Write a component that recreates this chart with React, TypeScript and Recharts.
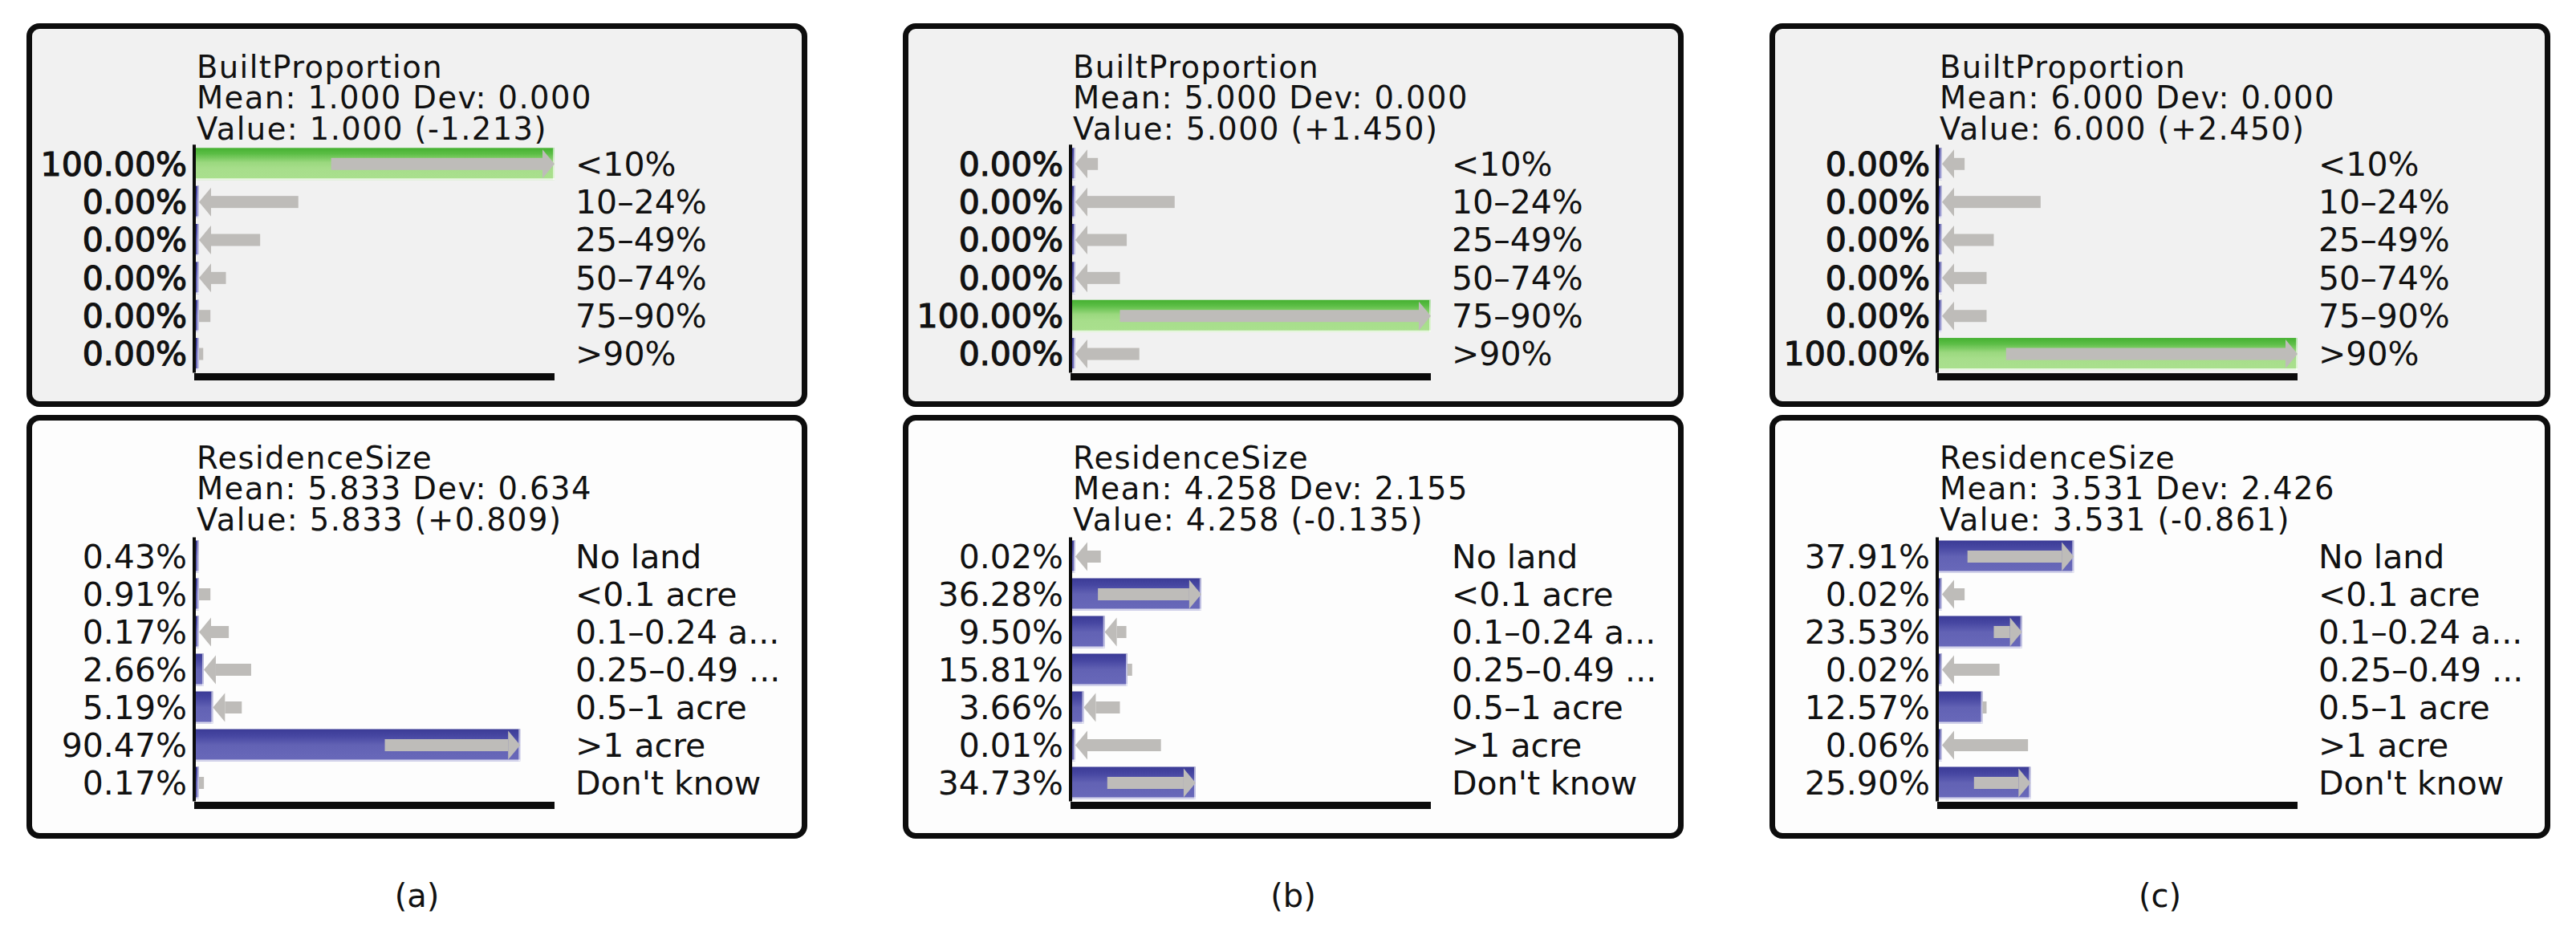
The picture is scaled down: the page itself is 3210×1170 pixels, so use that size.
import { BarChart, Bar, XAxis, YAxis } from "recharts";

// categories
const builtCats = ["<10%", "10–24%", "25–49%", "50–74%", "75–90%", ">90%"];
const sizeCats = ["No land", "<0.1 acre", "0.1–0.24 a...", "0.25–0.49 ...", "0.5–1 acre", ">1 acre", "Don't know"];

// BuiltProportion beliefs (%) and where the grey arrows start (earlier belief)
const builtA = [100, 0, 0, 0, 0, 0];
const builtPriorA = [38, 28.9, 18.3, 8.8, 4.5, 2.5];
const builtB = [0, 0, 0, 0, 100, 0];
const builtPriorB = [7.6, 28.9, 15.6, 13.7, 13.7, 19.1];
const builtC = [0, 0, 0, 0, 0, 100];
const builtPriorC = [7.6, 28.7, 15.7, 13.7, 13.7, 19.1];

// ResidenceSize beliefs (%)
const sizeA = [0.43, 0.91, 0.17, 2.66, 5.19, 90.47, 0.17];
const sizePriorA = [0.43, 4.5, 9.6, 15.8, 13.2, 52.9, 2.7];
const sizeB = [0.02, 36.28, 9.5, 15.81, 3.66, 0.01, 34.73];
const sizePriorB = [8.4, 7.6, 15.5, 17.1, 13.7, 25.1, 10.2];
const sizeC = [37.91, 0.02, 23.53, 0.02, 12.57, 0.06, 25.9];
const sizePriorC = [8.4, 7.6, 15.7, 17.3, 13.7, 25.2, 10.2];

// node header texts
const builtTitles = [
  ["BuiltProportion", "Mean: 1.000 Dev: 0.000", "Value: 1.000 (-1.213)"],
  ["BuiltProportion", "Mean: 5.000 Dev: 0.000", "Value: 5.000 (+1.450)"],
  ["BuiltProportion", "Mean: 6.000 Dev: 0.000", "Value: 6.000 (+2.450)"],
];
const sizeTitles = [
  ["ResidenceSize", "Mean: 5.833 Dev: 0.634", "Value: 5.833 (+0.809)"],
  ["ResidenceSize", "Mean: 4.258 Dev: 2.155", "Value: 4.258 (-0.135)"],
  ["ResidenceSize", "Mean: 3.531 Dev: 2.426", "Value: 3.531 (-0.861)"],
];
const captions = ["(a)", "(b)", "(c)"];

const FONT = "'DejaVu Sans', Verdana, sans-serif";
const INK = "#111111";
const GRAY = "#bebcb9";

const rows = (cats: string[], vals: number[], priors: number[]) =>
  cats.map((name, i) => ({ name, value: vals[i], prior: priors[i] }));

const fmt = (v: number) => `${v.toFixed(2)}%`;

const BarShape = (props: any) => {
  const { x, y, width, height, evidence, payload } = props;
  if (x == null || !isFinite(width)) return null;
  // the observed state of an evidence node is shown in green
  const grad = evidence && payload.value >= 100 ? "gGreen" : "gBlue";
  return (
    <g>
      <rect x={x} y={y} width={width} height={height} fill={`url(#${grad})`} />
      <line x1={x} x2={x + width} y1={y + height - 1} y2={y + height - 1} stroke="rgba(255,255,255,0.75)" strokeWidth={2} />
      <line x1={x + width - 1} x2={x + width - 1} y1={y} y2={y + height} stroke="rgba(255,255,255,0.6)" strokeWidth={2} />
    </g>
  );
};

const ArrowShape = (props: any) => {
  const { x, y, width, height, payload } = props;
  if (x == null || !isFinite(width)) return null;
  if (Math.abs(width) < 1) return null;
  const cy = y + height / 2;
  const dir = width >= 0 ? 1 : -1;
  let tip = x + width;
  // keep the tip off the axis when the current belief is ~0
  const span = payload.value - payload.prior;
  if (dir < 0 && span !== 0) {
    const ppu = width / span;
    const axisX = x - payload.prior * ppu;
    tip = Math.max(tip, axisX + 6);
  }
  const len = Math.abs(tip - x);
  const shaft = 15;
  const headLen = 15;
  const headH = height - 4;
  if (len < 26) {
    return <rect x={Math.min(x, tip)} y={cy - shaft / 2} width={len} height={shaft} fill={GRAY} />;
  }
  const base = tip - dir * headLen;
  return (
    <g>
      <rect x={Math.min(x, base)} y={cy - shaft / 2} width={Math.abs(base - x)} height={shaft} fill={GRAY} />
      <polygon points={`${base},${cy - headH / 2} ${tip},${cy} ${base},${cy + headH / 2}`} fill={GRAY} />
    </g>
  );
};

type NodeProps = {
  left: number;
  top: number;
  boxH: number;
  plotTop: number;
  band: number;
  axisShift: number;
  data: { name: string; value: number; prior: number }[];
  titles: string[];
  bg: string;
  evidence?: boolean;
};

const W = 973;
const AXIS_LEFT = 209;
const PLOT_W = 449;

const NodeBox = ({ left, top, boxH, plotTop, band, axisShift, data, titles, bg, evidence }: NodeProps) => {
  const plotH = band * data.length;
  const tickStyle = { fontSize: 41, fill: INK, fontFamily: FONT };
  const leftTick = evidence ? { ...tickStyle, stroke: INK, strokeWidth: 1.2 } : tickStyle;
  return (
    <>
      <div
        style={{
          position: "absolute",
          left,
          top,
          width: W,
          height: boxH,
          boxSizing: "border-box",
          border: "7px solid #0d0d0d",
          borderRadius: 16,
          background: bg,
        }}
      />
      <div
        style={{
          position: "absolute",
          left: left + 212,
          top: top + (evidence ? 35.6 : 34.6),
          fontFamily: FONT,
          fontSize: 38.5,
          letterSpacing: "1.4px",
          lineHeight: "38.5px",
          color: INK,
          whiteSpace: "pre",
        }}
      >
        {titles.map((t) => (
          <div key={t}>{t}</div>
        ))}
      </div>
      <div style={{ position: "absolute", left, top }}>
        <BarChart
          width={W}
          height={boxH}
          data={data}
          layout="vertical"
          barGap={-40}
          margin={{ top: plotTop, right: 0, bottom: 0, left: 0 }}
        >
          <XAxis
            type="number"
            domain={[0, 100]}
            allowDataOverflow
            tick={false}
            tickLine={false}
            height={boxH - plotTop - plotH}
            axisLine={{ stroke: "#0b0b0b", strokeWidth: 9, transform: `translate(0,${axisShift})` }}
          />
          <YAxis
            yAxisId="left"
            type="category"
            dataKey="name"
            width={AXIS_LEFT}
            interval={0}
            tickLine={false}
            tickSize={0}
            tickMargin={9}
            axisLine={{ stroke: "#0b0b0b", strokeWidth: 4 }}
            tick={leftTick}
            tickFormatter={(_v: any, i: number) => fmt(data[i].value)}
          />
          <YAxis
            yAxisId="right"
            orientation="right"
            type="category"
            dataKey="name"
            width={W - AXIS_LEFT - PLOT_W}
            interval={0}
            tickLine={false}
            tickSize={0}
            tickMargin={26}
            axisLine={false}
            tick={tickStyle}
          />
          <Bar
            yAxisId="left"
            dataKey="value"
            barSize={40}
            minPointSize={6}
            isAnimationActive={false}
            shape={(p: any) => <BarShape {...p} evidence={evidence} />}
          />
          <Bar
            yAxisId="left"
            dataKey={(d: any) => [d.prior, d.value]}
            barSize={40}
            isAnimationActive={false}
            shape={(p: any) => <ArrowShape {...p} />}
          />
        </BarChart>
      </div>
    </>
  );
};

export default function App() {
  const lefts = [33, 1125, 2205];
  const built = [
    rows(builtCats, builtA, builtPriorA),
    rows(builtCats, builtB, builtPriorB),
    rows(builtCats, builtC, builtPriorC),
  ];
  const size = [
    rows(sizeCats, sizeA, sizePriorA),
    rows(sizeCats, sizeB, sizePriorB),
    rows(sizeCats, sizeC, sizePriorC),
  ];
  return (
    <div
      style={{
        position: "absolute",
        left: 0,
        top: 0,
        width: 3210,
        height: 1170,
        background: "#ffffff",
        overflow: "hidden",
        fontFamily: FONT,
      }}
    >
      <svg width={0} height={0} style={{ position: "absolute" }}>
        <defs>
          <linearGradient id="gGreen" x1="0" y1="0" x2="0" y2="1">
            <stop offset="0" stopColor="#45b131" />
            <stop offset="0.18" stopColor="#5bbd45" />
            <stop offset="0.45" stopColor="#9ad87e" />
            <stop offset="0.65" stopColor="#a7de8b" />
            <stop offset="1" stopColor="#aae08e" />
          </linearGradient>
          <linearGradient id="gBlue" x1="0" y1="0" x2="0" y2="1">
            <stop offset="0" stopColor="#3b3b96" />
            <stop offset="0.22" stopColor="#4747a2" />
            <stop offset="0.5" stopColor="#6262b4" />
            <stop offset="1" stopColor="#6969ba" />
          </linearGradient>
        </defs>
      </svg>
      {lefts.map((l, i) => (
        <NodeBox
          key={`b${i}`}
          left={l}
          top={29}
          boxH={478}
          plotTop={151.3}
          band={47.35}
          axisShift={5}
          data={built[i]}
          titles={builtTitles[i]}
          bg="#f1f1f1"
          evidence
        />
      ))}
      {lefts.map((l, i) => (
        <NodeBox
          key={`s${i}`}
          left={l}
          top={517}
          boxH={528}
          plotTop={152.5}
          band={47}
          axisShift={5}
          data={size[i]}
          titles={sizeTitles[i]}
          bg="#fdfdfd"
        />
      ))}
      {lefts.map((l, i) => (
        <div
          key={`c${i}`}
          style={{
            position: "absolute",
            left: l,
            width: W,
            top: 1094,
            textAlign: "center",
            fontSize: 40,
            lineHeight: "44px",
            color: INK,
          }}
        >
          {captions[i]}
        </div>
      ))}
    </div>
  );
}
